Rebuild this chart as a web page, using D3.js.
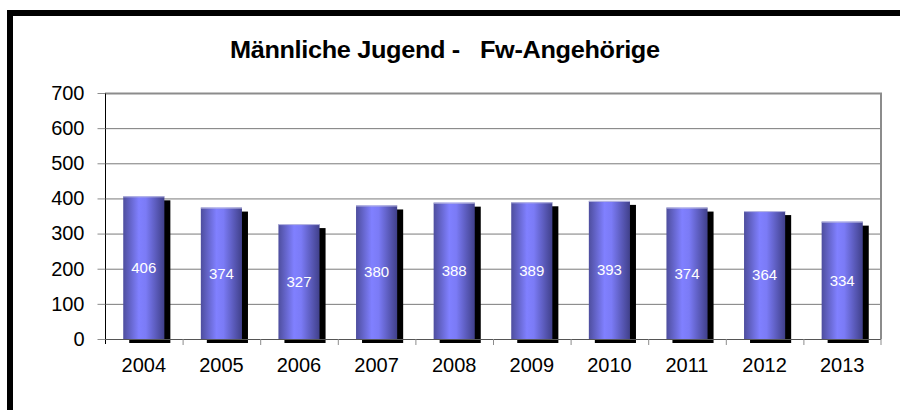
<!DOCTYPE html>
<html>
<head>
<meta charset="utf-8">
<script src="https://cdn.jsdelivr.net/npm/d3@7"></script>
<style>
  body { margin: 0; background: #fff; }
  svg { display: block; font-family: "Liberation Sans", Arial, sans-serif; }
</style>
</head>
<body>
<svg id="chart" width="900" height="410"></svg>
<script>
// Chart data
const years = ['2004', '2005', '2006', '2007', '2008', '2009', '2010', '2011', '2012', '2013'];
const members = [406, 374, 327, 380, 388, 389, 393, 374, 364, 334];
const yTicks = [0, 100, 200, 300, 400, 500, 600, 700];
const title = 'Männliche Jugend -\u00a0\u00a0 Fw-Angehörige';

const svg = d3.select('#chart');

// Outer frame
svg.append('rect')
  .attr('x', 10)
  .attr('y', 13)
  .attr('width', 900)
  .attr('height', 420)
  .attr('fill', 'none')
  .attr('stroke', '#000')
  .attr('stroke-width', 6);

// Title (the original font is a bit wider than Liberation Sans)
const titleScale = 1.1;
const titleText = svg.append('text')
  .style('font-size', '23px')
  .style('font-weight', 'bold')
  .style('letter-spacing', '-0.3px')
  .text(title);
const tw = titleText.node().getComputedTextLength() * titleScale;
titleText.attr('transform', `translate(${445 - tw / 2},58) scale(${titleScale},1)`);

// Plot area
const plot = { left: 105, right: 881, top: 93, bottom: 339 };

const x = d3.scaleBand()
  .domain(years)
  .range([plot.left, plot.right])
  .paddingInner(0.47)
  .paddingOuter(0.235);

const band = d3.scaleBand()
  .domain(years)
  .range([plot.left, plot.right]);

const y = d3.scaleLinear()
  .domain([0, 700])
  .range([plot.bottom, plot.top]);

// Gradient for bars
const defs = svg.append('defs');
const grad = defs.append('linearGradient')
  .attr('id', 'barGrad')
  .attr('x1', '0%').attr('x2', '100%')
  .attr('y1', '0%').attr('y2', '0%');
grad.append('stop').attr('offset', '0%').attr('stop-color', '#4e4e9e');
grad.append('stop').attr('offset', '38%').attr('stop-color', '#8080ff');
grad.append('stop').attr('offset', '55%').attr('stop-color', '#7b7bf6');
grad.append('stop').attr('offset', '100%').attr('stop-color', '#40408a');

// Grid lines
svg.append('g')
  .selectAll('line')
  .data(yTicks.filter(d => d > 0 && d < 700))
  .enter()
  .append('line')
  .attr('x1', plot.left)
  .attr('x2', plot.right)
  .attr('y1', d => y(d) + 0.5)
  .attr('y2', d => y(d) + 0.5)
  .attr('stroke', '#7a7a7a')
  .attr('stroke-width', 1);

// Top and right border of plot
svg.append('path')
  .attr('d', `M${plot.left},${y(700) + 0.5}H${plot.right}V${plot.bottom}`)
  .attr('fill', 'none')
  .attr('stroke', '#8c8c8c')
  .attr('stroke-width', 2);

// Y axis
const yAxis = svg.append('g')
  .attr('transform', `translate(${plot.left + 0.5},0)`)
  .call(d3.axisLeft(y).tickValues(yTicks).tickSize(8).tickPadding(13));
yAxis.select('.domain')
  .attr('d', `M0,${plot.top}V${plot.bottom + 5}`)
  .attr('stroke', '#000');
yAxis.selectAll('.tick line').attr('stroke', '#8c8c8c');
yAxis.selectAll('.tick text')
  .style('font-size', '20px')
  .style('font-family', '"Liberation Sans", Arial, sans-serif')
  .attr('fill', '#000');

// Shadows
svg.append('g')
  .selectAll('rect')
  .data(members)
  .enter()
  .append('rect')
  .attr('x', (d, i) => x(years[i]) + 6)
  .attr('y', d => y(d) + 4)
  .attr('width', x.bandwidth())
  .attr('height', d => plot.bottom - y(d))
  .attr('fill', '#000');

// X axis line
svg.append('line')
  .attr('x1', plot.left)
  .attr('x2', plot.right)
  .attr('y1', plot.bottom + 0.5)
  .attr('y2', plot.bottom + 0.5)
  .attr('stroke', '#555');

// Bars
svg.append('g')
  .selectAll('rect')
  .data(members)
  .enter()
  .append('rect')
  .attr('x', (d, i) => x(years[i]))
  .attr('y', d => y(d))
  .attr('width', x.bandwidth())
  .attr('height', d => plot.bottom - y(d))
  .attr('fill', 'url(#barGrad)');

// Bar top highlight
svg.append('g')
  .selectAll('line')
  .data(members)
  .enter()
  .append('line')
  .attr('x1', (d, i) => x(years[i]))
  .attr('x2', (d, i) => x(years[i]) + x.bandwidth())
  .attr('y1', d => y(d) + 0.5)
  .attr('y2', d => y(d) + 0.5)
  .attr('stroke', '#b8b8e0');

// Category tick marks
svg.append('g')
  .selectAll('line')
  .data(years.slice(1).concat(['end']))
  .enter()
  .append('line')
  .attr('x1', (d, i) => i < years.length - 1 ? band(d) + 0.5 : plot.right)
  .attr('x2', (d, i) => i < years.length - 1 ? band(d) + 0.5 : plot.right)
  .attr('y1', plot.bottom)
  .attr('y2', plot.bottom + 6)
  .attr('stroke', '#8c8c8c');

// X labels
svg.append('g')
  .selectAll('text')
  .data(years)
  .enter()
  .append('text')
  .attr('x', d => band(d) + band.bandwidth() / 2)
  .attr('y', 372)
  .attr('text-anchor', 'middle')
  .style('font-size', '20px')
  .text(d => d);

// Value labels
svg.append('g')
  .selectAll('text')
  .data(members)
  .enter()
  .append('text')
  .attr('x', (d, i) => x(years[i]) + x.bandwidth() / 2)
  .attr('y', d => (y(d) + plot.bottom) / 2)
  .attr('dy', '.35em')
  .attr('text-anchor', 'middle')
  .attr('fill', '#fff')
  .style('font-size', '15px')
  .text(d => d);
</script>
</body>
</html>
